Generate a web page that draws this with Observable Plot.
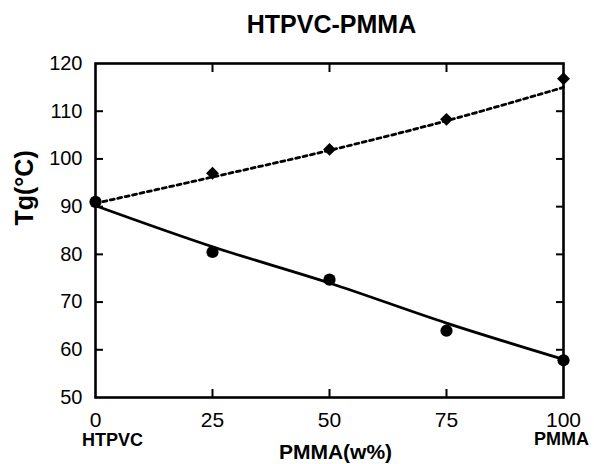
<!DOCTYPE html>
<html>
<head>
<meta charset="utf-8">
<script src="https://cdn.jsdelivr.net/npm/d3@7"></script>
<script src="https://cdn.jsdelivr.net/npm/@observablehq/plot@0.6"></script>
<style>
  html, body { margin: 0; padding: 0; background: #fff; }
  svg { font-family: "Liberation Sans", Arial, Helvetica, sans-serif; }
</style>
</head>
<body>
<div id="chart"></div>
<script>
const title = "HTPVC-PMMA";
const xLabel = "PMMA(w%)";
const yLabel = "Tg(°C)";
const pmma = [0, 25, 50, 75, 100];
const tgPMMARich = [91, 97, 102, 108.3, 116.8];   // diamonds (upper)
const tgHTPVCRich = [91, 80.5, 74.7, 64, 57.8];   // circles (lower)
const fitUpper = [90.7, 96.2, 101.8, 108, 115];
const fitLower = [90.2, 81.6, 74, 65.6, 58];
const xTicks = [0, 25, 50, 75, 100];
const yTicks = [50, 60, 70, 80, 90, 100, 110, 120];
const innerXTicks = [25, 50, 75];
const innerYTicks = [60, 70, 80, 90, 100, 110];
const xDomain = [0, 100];
const yDomain = [50, 120];

const upper = pmma.map((x, i) => ({x, y: tgPMMARich[i]}));
const lower = pmma.map((x, i) => ({x, y: tgHTPVCRich[i]}));
const upperFit = pmma.map((x, i) => ({x, y: fitUpper[i]}));
const lowerFit = pmma.map((x, i) => ({x, y: fitLower[i]}));

const blank = () => "";
const tickOpts = {tickSize: -8, tickFormat: blank, strokeWidth: 2, stroke: "#000", label: null};

const chart = Plot.plot({
  width: 594,
  height: 464,
  marginTop: 63,
  marginRight: 31,
  marginBottom: 67,
  marginLeft: 95,
  style: {fontFamily: "Liberation Sans, Arial, sans-serif", background: "#fff", color: "#000"},
  x: {domain: xDomain},
  y: {domain: yDomain},
  marks: [
    Plot.axisX(xTicks, {tickSize: 0, tickPadding: 15, fontSize: 21, label: null}),
    Plot.axisY(yTicks, {tickSize: 0, tickPadding: 13, fontSize: 20, label: null}),
    Plot.axisX(innerXTicks, {anchor: "bottom", ...tickOpts}),
    Plot.axisX(innerXTicks, {anchor: "top", ...tickOpts}),
    Plot.axisY(innerYTicks, {anchor: "left", ...tickOpts}),
    Plot.axisY(innerYTicks, {anchor: "right", ...tickOpts}),
    Plot.frame({stroke: "#000", fill: "none", strokeWidth: 2.6}),
    Plot.line(upperFit, {x: "x", y: "y", stroke: "#000", strokeWidth: 2.8, strokeDasharray: "4,3.6", curve: "monotone-x"}),
    Plot.line(lowerFit, {x: "x", y: "y", stroke: "#000", strokeWidth: 2.8, curve: "monotone-x"}),
    Plot.dot(upper, {filter: (d, i) => i > 0, x: "x", y: "y", symbol: "diamond2", r: 5.8, fill: "#000", stroke: "none"}),
    Plot.dot(lower, {x: "x", y: "y", symbol: "circle", r: 6.1, fill: "#000", stroke: "none"}),
    Plot.text([title], {frameAnchor: "top", dx: 2, dy: -39, fontSize: 25, fontWeight: "bold", lineAnchor: "middle"}),
    Plot.text([xLabel], {frameAnchor: "bottom", dx: 6, dy: 55, fontSize: 21, fontWeight: "bold", lineAnchor: "middle"}),
    Plot.text([yLabel], {frameAnchor: "left", dx: -71, dy: -5, rotate: -90, fontSize: 25, fontWeight: "bold", lineAnchor: "middle"}),
    Plot.text(["HTPVC"], {x: xTicks[0], frameAnchor: "bottom", dx: 17, dy: 43, fontSize: 18, fontWeight: "bold", lineAnchor: "middle"}),
    Plot.text(["PMMA"], {x: xTicks[4], frameAnchor: "bottom", dx: -2, dy: 42, fontSize: 18, fontWeight: "bold", lineAnchor: "middle"})
  ]
});
document.getElementById("chart").appendChild(chart);
</script>
</body>
</html>
